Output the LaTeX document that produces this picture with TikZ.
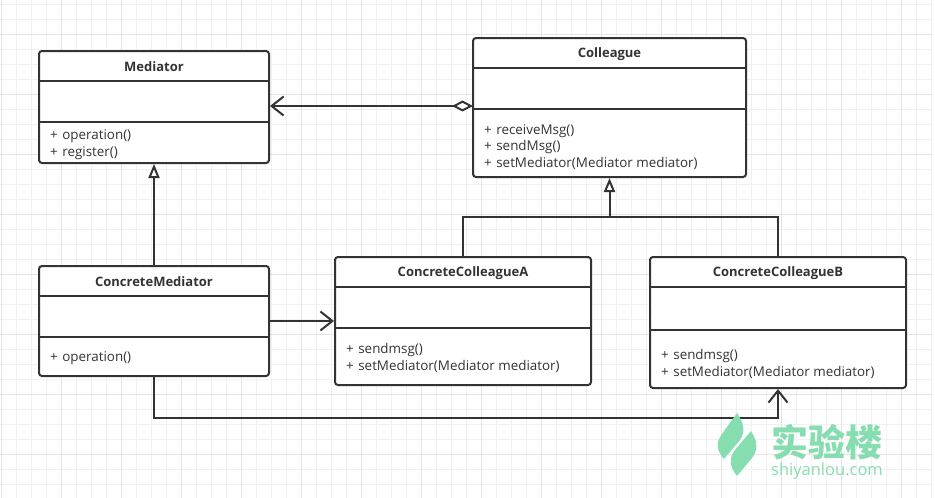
\documentclass[tikz,border=0pt]{standalone}
\usepackage{fontspec}
\setmainfont{Open Sans}
\newfontfamily\cjkfont{Noto Sans CJK SC}
\usetikzlibrary{arrows.meta,positioning,calc}
\definecolor{ink}{HTML}{333333}
\definecolor{gridminor}{HTML}{F1F1F1}
\definecolor{gridmajor}{HTML}{E4E4E4}
\definecolor{brand}{HTML}{86DDB0}
\tikzset{
  umlbox/.style={draw=ink,line width=2pt,rounded corners=3pt,inner sep=0pt,outer sep=0pt,fill=white,anchor=north west},
  divider/.style={draw=ink,line width=2pt},
  titletext/.style={text=ink,font=\fontsize{13}{15}\selectfont\bfseries,inner sep=0pt,anchor=center},
  membertext/.style={text=ink,font=\fontsize{13.4}{15}\selectfont,inner sep=0pt,anchor=west},
  link/.style={draw=ink,line width=2pt},
  openhead/.tip={Straight Barb[length=12pt,width=19pt,line width=2pt]},
  genhead/.tip={Triangle[open,fill=white,length=14pt,width=11pt,line width=2pt]},
  aggtail/.tip={Diamond[open,fill=white,length=21pt,width=11pt,line width=2pt]},
}
\newcommand{\plus}{+\hspace{4.5pt}}
% name, x0, y0, width, height, div1, div2, title
\newcommand{\umlclass}[8]{%
  \node[umlbox,minimum width=#4pt,minimum height=#5pt] (#1) at (#2,#3) {};
  \path[divider] (#1.west |- 0,#6) -- (#1.east |- 0,#6);
  \path[divider] (#1.west |- 0,#7) -- (#1.east |- 0,#7);
  \node[titletext] (#1-title) at ($(#1.north)+(0,16)$) {#8};
}
\begin{document}
\begin{tikzpicture}[x=1pt,y=-1pt]
\useasboundingbox (0,0) rectangle (935,498);
\fill[white] (0,0) rectangle (935,498);
% grid
\foreach \k in {0,...,62} {\draw[gridminor,line width=1pt] ({1.7+15*\k},0) -- ({1.7+15*\k},498);}
\foreach \k in {0,...,33} {\draw[gridminor,line width=1pt] (0,{4.5+15*\k}) -- (932,{4.5+15*\k});}
\foreach \k in {0,...,15} {\draw[gridmajor,line width=1pt] ({1.7+60*\k},0) -- ({1.7+60*\k},498);}
\foreach \k in {0,...,8} {\draw[gridmajor,line width=1pt] (0,{34.5+60*\k}) -- (932,{34.5+60*\k});}

\umlclass{med}{39}{51}{230}{112}{81}{122}{Mediator}
\umlclass{col}{473}{38}{273}{139}{68}{109}{Colleague}
\umlclass{cm}{39}{266}{230}{110}{296}{337}{ConcreteMediator}
\umlclass{cca}{335}{257}{256}{128}{287}{328}{ConcreteColleagueA}
\umlclass{ccb}{650}{257}{256}{131}{287}{330}{ConcreteColleagueB}

\node[membertext] (m1) at (50,136.5) {\plus operation()};
\node[membertext] (m2) at (50,153) {\plus register()};
\node[membertext] (c1) at (484,131) {\plus receiveMsg()};
\node[membertext] (c2) at (484,147) {\plus sendMsg()};
\node[membertext] (c3) at (484,163.5) {\plus setMediator(Mediator mediator)};
\node[membertext] (k1) at (50,358.5) {\plus operation()};
\node[membertext] (a1) at (346,350.5) {\plus sendmsg()};
\node[membertext] (a2) at (346,366.5) {\plus setMediator(Mediator mediator)};
\node[membertext] (b1) at (661,356) {\plus sendmsg()};
\node[membertext] (b2) at (661,372) {\plus setMediator(Mediator mediator)};

% connectors
\coordinate (bend) at ($(col.south)+(0,40)$);
\draw[link,aggtail-openhead,shorten >=1pt] (col.west |- 0,106) -- (med.east |- 0,106);
\draw[link,-genhead,shorten >=1pt] (cm.north) -- (med.south);
\draw[link] (cca.north) |- (bend);
\draw[link] (ccb.north) |- (bend);
\draw[link,-genhead,shorten >=1pt] (bend) -- (col.south);
\draw[link,-openhead,shorten >=1pt] (cm.east) -- (cca.west);
\draw[link,-openhead,shorten >=1pt] (cm.south) |- ($(ccb.south)+(0,30)$) -- (ccb.south);

% watermark
\fill[brand] (737,413) .. controls (745,425) and (745,432) .. (740,440) -- (724,459) .. controls (716,450) and (716,442) .. (722,434) -- cycle;
\fill[brand] (751,431) .. controls (758,442) and (758,450) .. (752,458) -- (737,476) .. controls (729,466) and (729,458) .. (735,450) -- cycle;
\node[text=brand,inner sep=0pt,font=\cjkfont\fontsize{37}{40}\selectfont\bfseries] (wm1) at (827,442) {实验楼};
\node[text=brand,inner sep=0pt,font=\fontsize{16.5}{18}\selectfont] (wm2) at (827,471) {shiyanlou.com};
\end{tikzpicture}
\end{document}
